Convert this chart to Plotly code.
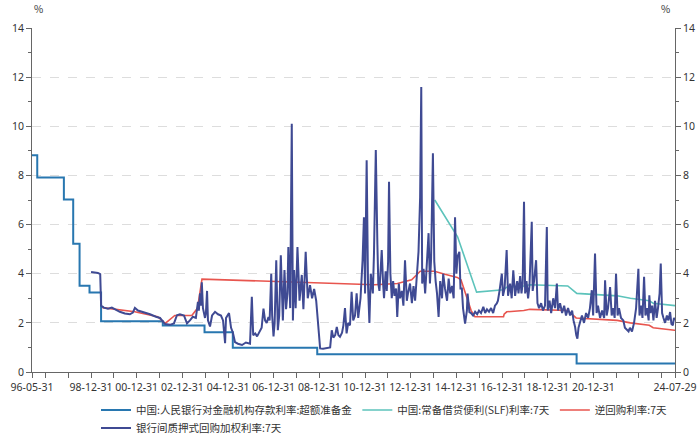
import pandas as pd
import plotly.graph_objects as go

# ---------------- data ----------------
dep_dates = ['1996-05-31', '1996-08-23', '1997-10-23', '1998-03-21', '1998-07-01', '1998-12-07',
             '1999-06-10', '2002-02-21', '2003-12-21', '2005-03-17', '2008-11-27', '2020-04-07',
             '2024-07-29']
dep_vals = [8.82, 7.92, 7.02, 5.22, 3.51, 3.24, 2.07, 1.89, 1.62, 0.99, 0.72, 0.35, 0.35]

slf_dates = ['2014-01-20', '2015-01-20', '2015-11-20', '2017-01-24', '2017-03-16', '2017-12-14',
             '2018-03-22', '2019-11-18', '2020-04-10', '2022-01-17', '2022-08-15', '2023-06-13',
             '2023-08-15', '2024-07-29']
slf_vals = [7.0, 5.5, 3.25, 3.35, 3.45, 3.5, 3.55, 3.5, 3.2, 3.1, 3.0, 2.9, 2.8, 2.7]

rr_dates = ['1999-07-01', '2000-03-01', '2000-07-01', '2000-12-01', '2001-06-01', '2001-12-01',
            '2002-04-01', '2002-09-01', '2003-06-01', '2003-09-01', '2003-11-10', '2011-06-01',
            '2012-06-01', '2013-01-15', '2013-06-01', '2014-01-15', '2014-06-01', '2015-01-15',
            '2015-03-15', '2015-05-10', '2015-06-30', '2015-08-25', '2015-10-24', '2017-01-24',
            '2017-02-03', '2017-03-16', '2017-12-14', '2018-03-22', '2019-11-18', '2020-03-30',
            '2022-01-17', '2022-08-15', '2023-06-13', '2023-08-15', '2024-07-22', '2024-07-29']
rr_vals = [2.62, 2.55, 2.52, 2.45, 2.35, 2.25, 1.98, 2.3, 2.3, 2.6, 3.78, 3.55,
           3.6, 3.75, 4.1, 4.1, 4.0, 3.85, 3.75, 3.35, 2.9, 2.5, 2.25, 2.25,
           2.35, 2.45, 2.5, 2.55, 2.5, 2.2, 2.1, 2.0, 1.9, 1.8, 1.7, 1.7]

# interbank pledged repo weighted rate, 7 day (time in decimal years)
repo_t = [1999.00, 1999.15, 1999.30, 1999.40, 1999.44, 1999.56, 1999.74, 1999.91, 2000.09, 2000.26,
          2000.48, 2000.70, 2000.83, 2000.92, 2001.05, 2001.27, 2001.58, 2001.84, 2002.02, 2002.15,
          2002.24, 2002.45, 2002.63, 2002.76, 2002.89, 2003.07, 2003.20, 2003.33, 2003.46, 2003.59,
          2003.68, 2003.72, 2003.77, 2003.81, 2003.85, 2003.90, 2003.99, 2004.03, 2004.08, 2004.12,
          2004.21, 2004.30, 2004.43, 2004.56, 2004.69, 2004.78, 2004.87, 2004.91, 2005.04, 2005.13,
          2005.21, 2005.30, 2005.43, 2005.61, 2005.78, 2005.96,
          2006.04, 2006.10, 2006.19, 2006.27, 2006.40, 2006.47, 2006.55, 2006.62, 2006.69, 2006.77,
          2006.82, 2006.89, 2006.93, 2006.99, 2007.04, 2007.11, 2007.18, 2007.24, 2007.31, 2007.40,
          2007.47, 2007.54, 2007.60, 2007.64, 2007.72, 2007.75, 2007.79, 2007.84, 2007.89, 2007.96,
          2008.04, 2008.13, 2008.18, 2008.23, 2008.30, 2008.40, 2008.49, 2008.59, 2008.68, 2008.77,
          2008.86, 2008.91, 2008.96, 2009.03, 2009.16, 2009.32, 2009.47, 2009.54, 2009.61, 2009.69,
          2009.76, 2009.83, 2009.90, 2009.99, 2010.05, 2010.12, 2010.19, 2010.26, 2010.34, 2010.41,
          2010.48, 2010.56, 2010.63, 2010.70, 2010.80, 2010.89, 2010.95, 2011.00,
          2011.07, 2011.13, 2011.19, 2011.25, 2011.34, 2011.39, 2011.47, 2011.54, 2011.58, 2011.63,
          2011.68, 2011.73, 2011.79, 2011.83, 2011.90, 2011.95, 2012.01, 2012.05, 2012.11, 2012.17,
          2012.23, 2012.29, 2012.36, 2012.41, 2012.48, 2012.53, 2012.61, 2012.68, 2012.75, 2012.83,
          2012.88, 2012.97, 2013.05, 2013.12, 2013.19, 2013.27, 2013.34, 2013.41, 2013.46, 2013.50,
          2013.56, 2013.63, 2013.71, 2013.78, 2013.84, 2013.89, 2013.97, 2014.03, 2014.09, 2014.15,
          2014.22, 2014.29, 2014.37, 2014.42, 2014.50, 2014.59, 2014.66, 2014.73, 2014.81, 2014.88,
          2014.94, 2015.00, 2015.05, 2015.13, 2015.18, 2015.24, 2015.29, 2015.38, 2015.46, 2015.49,
          2015.57, 2015.64, 2015.73, 2015.82, 2015.91, 2015.99, 2016.08, 2016.18, 2016.26, 2016.34,
          2016.43, 2016.52, 2016.61, 2016.69, 2016.77, 2016.82, 2016.89, 2016.99, 2017.04, 2017.11,
          2017.20, 2017.26, 2017.35, 2017.42, 2017.49, 2017.57, 2017.66, 2017.72, 2017.79, 2017.85,
          2017.90, 2017.96, 2018.01, 2018.07, 2018.14, 2018.20, 2018.30, 2018.34, 2018.40, 2018.49,
          2018.55, 2018.62, 2018.71, 2018.79, 2018.88, 2018.96, 2019.00, 2019.08, 2019.15, 2019.24,
          2019.32, 2019.40, 2019.45, 2019.54, 2019.63, 2019.72, 2019.80, 2019.89, 2019.98, 2020.07,
          2020.13, 2020.20, 2020.25, 2020.30, 2020.35, 2020.42, 2020.50, 2020.59, 2020.68, 2020.77,
          2020.85, 2020.93, 2020.99, 2021.07, 2021.14, 2021.20, 2021.29, 2021.38, 2021.47, 2021.51,
          2021.58, 2021.64, 2021.73, 2021.80, 2021.86, 2021.93, 2021.99, 2022.06, 2022.12, 2022.21,
          2022.31, 2022.38, 2022.46, 2022.54, 2022.60, 2022.69, 2022.78, 2022.87, 2022.97, 2023.02,
          2023.09, 2023.15, 2023.22, 2023.28, 2023.35, 2023.42, 2023.45, 2023.50, 2023.57, 2023.63,
          2023.70, 2023.77, 2023.83, 2023.90, 2023.95, 2024.01, 2024.07, 2024.14, 2024.22, 2024.29,
          2024.36, 2024.42, 2024.48, 2024.53, 2024.57]
repo_vals = [4.07, 4.06, 4.03, 3.98, 2.70, 2.62, 2.58, 2.62, 2.52, 2.45,
             2.38, 2.35, 2.42, 2.61, 2.50, 2.45, 2.35, 2.25, 2.20, 2.05,
             1.95, 1.92, 1.98, 2.31, 2.35, 2.30, 1.98, 2.10, 2.25, 2.20,
             2.85, 2.50, 3.20, 2.70, 3.65, 2.60, 2.20, 2.40, 3.30, 2.10,
             1.85, 2.30, 2.45, 2.35, 2.30, 2.10, 1.17, 2.20, 2.40, 1.80,
             1.60, 1.22, 1.15, 1.10, 1.20, 1.15,
             3.06, 1.50, 1.57, 1.45, 1.70, 1.80, 2.58, 2.10, 2.00, 2.24,
             2.10, 4.00, 2.30, 1.45, 2.00, 4.55, 1.70, 2.30, 4.75, 2.10,
             4.15, 2.56, 3.20, 5.09, 2.60, 7.13, 10.10, 2.10, 4.15, 2.60,
             5.09, 2.90, 3.40, 3.95, 2.56, 4.89, 3.00, 3.53, 3.00, 3.38,
             2.90, 2.30, 1.60, 0.96, 0.95, 0.97, 1.00, 1.70, 1.40, 1.50,
             1.83, 1.50, 1.43, 1.60, 1.90, 2.60, 1.57, 2.00, 1.90, 3.26,
             2.10, 2.30, 3.20, 2.20, 3.00, 4.55, 6.30, 3.20,
             8.62, 3.50, 2.00, 4.00, 3.20, 4.80, 9.03, 5.20, 3.60, 3.30,
             4.20, 4.96, 3.60, 3.00, 4.10, 3.30, 4.50, 7.74, 4.00, 3.00,
             3.70, 3.10, 3.40, 2.24, 3.60, 3.00, 3.30, 2.70, 4.55, 2.90,
             3.20, 3.60, 2.80, 3.50, 2.90, 4.00, 4.90, 7.10, 11.60, 3.60,
             4.20, 3.20, 4.50, 5.65, 3.60, 4.60, 8.90, 4.50, 3.70, 3.20,
             2.24, 3.70, 3.00, 4.00, 3.40, 2.90, 3.80, 3.20, 3.50, 3.00,
             6.30, 4.00, 4.70, 4.89, 3.40, 3.40, 2.60, 1.97, 2.50, 3.19,
             2.44, 2.40, 2.30, 2.45, 2.35, 2.50, 2.40, 2.65, 2.40, 2.55,
             2.45, 2.60, 2.40, 2.70, 2.79, 2.90, 3.30, 4.00, 3.10, 3.40,
             4.96, 3.10, 3.60, 3.00, 4.14, 3.10, 3.70, 3.20, 3.90, 3.20,
             3.60, 6.93, 3.20, 3.70, 3.00, 3.50, 6.11, 3.30, 3.70, 4.55,
             2.80, 2.60, 2.80, 2.50, 2.70, 5.90, 2.50, 2.90, 2.40, 3.00,
             2.60, 3.60, 2.50, 2.80, 2.40, 2.70, 2.30, 2.60, 2.30, 2.50,
             2.10, 1.83, 1.50, 1.36, 1.80, 2.10, 2.30, 2.00, 2.40, 2.20,
             2.60, 3.33, 2.30, 4.82, 2.40, 2.70, 2.20, 2.50, 2.20, 3.73,
             2.30, 2.60, 3.46, 2.30, 2.60, 2.20, 4.00, 2.30, 2.60, 2.20,
             2.10, 1.80, 1.70, 1.65, 1.80, 1.65, 2.00, 2.60, 4.20, 2.30,
             2.70, 2.20, 3.87, 2.30, 2.60, 2.10, 3.12, 2.40, 2.70, 2.10,
             2.90, 2.20, 2.60, 3.20, 4.41, 2.40, 2.20, 2.00, 2.30, 2.10,
             2.44, 1.95, 1.90, 2.20, 2.10]

tick_dates = ['1996-05-31'] + [f'{y}-12-31' for y in range(1996, 2024)] + ['2024-07-29']
tick_labels = {'1996-05-31': '96-05-31', '2024-07-29': '24-07-29'}
for y in range(1998, 2021, 2):
    tick_labels[f'{y}-12-31'] = f'{str(y)[2:]}-12-31'

names = ['中国:人民银行对金融机构存款利率:超额准备金', '中国:常备借贷便利(SLF)利率:7天',
         '逆回购利率:7天', '银行间质押式回购加权利率:7天']
colors = ['#2877b0', '#5cc3bb', '#e8554e', '#3f4a93']


def to_date(t):
    out = []
    for v in t:
        y = int(v)
        start = pd.Timestamp(year=y, month=1, day=1)
        out.append(start + pd.Timedelta(days=(v - y) * 365.25))
    return out


fig = go.Figure()
fig.add_trace(go.Scatter(x=pd.to_datetime(dep_dates), y=dep_vals, mode='lines', name=names[0],
                         line=dict(color=colors[0], width=2, shape='hv'), legend='legend'))
fig.add_trace(go.Scatter(x=pd.to_datetime(slf_dates), y=slf_vals, mode='lines', name=names[1],
                         line=dict(color=colors[1], width=1.6), legend='legend'))
fig.add_trace(go.Scatter(x=pd.to_datetime(rr_dates), y=rr_vals, mode='lines', name=names[2],
                         line=dict(color=colors[2], width=1.6), legend='legend'))
fig.add_trace(go.Scatter(x=to_date(repo_t), y=repo_vals, mode='lines', name=names[3],
                         line=dict(color=colors[3], width=2), legend='legend2'))
# invisible trace to anchor right axis
fig.add_trace(go.Scatter(x=[pd.Timestamp('2000-01-01')], y=[None], yaxis='y2', showlegend=False,
                         hoverinfo='skip', mode='lines'))

tick_font = dict(family='Noto Sans, sans-serif', size=10.5, color='#333333')
axis_col = '#666666'
leg_common = dict(orientation='h', xanchor='left', yanchor='middle',
                  xref='container', yref='container',
                  font=dict(size=10.5, color='#333333'), itemwidth=30, tracegroupgap=0,
                  bgcolor='rgba(0,0,0,0)')
fig.update_layout(
    width=700, height=437,
    margin=dict(l=32, r=25, t=28, b=65),
    paper_bgcolor='white', plot_bgcolor='white',
    font=dict(family='Noto Sans CJK SC, Noto Sans, sans-serif', size=10.5, color='#333333'),
    xaxis=dict(
        type='date', automargin=False,
        range=[pd.Timestamp('1996-05-31'), pd.Timestamp('2024-07-29')],
        tickmode='array', tickvals=pd.to_datetime(tick_dates),
        ticktext=[tick_labels.get(d, '') for d in tick_dates],
        tickangle=0,
        ticks='outside', ticklen=5, tickcolor=axis_col,
        showline=True, linecolor=axis_col, linewidth=1,
        showgrid=False, zeroline=False,
        tickfont=tick_font,
    ),
    yaxis=dict(
        range=[0, 14], tickmode='linear', tick0=0, dtick=2, automargin=False,
        ticks='outside', ticklen=5, tickcolor=axis_col,
        minor=dict(dtick=1, ticklen=3, tickcolor=axis_col, ticks='outside', showgrid=False),
        showline=True, linecolor=axis_col, linewidth=1,
        showgrid=True, gridcolor='#dddddd', griddash='dash', gridwidth=1,
        zeroline=False, tickfont=tick_font,
    ),
    yaxis2=dict(
        range=[0, 14], tickmode='linear', tick0=0, dtick=2, overlaying='y', side='right',
        automargin=False,
        ticks='outside', ticklen=5, tickcolor=axis_col,
        minor=dict(dtick=1, ticklen=3, tickcolor=axis_col, ticks='outside', showgrid=False),
        showline=True, linecolor=axis_col, linewidth=1,
        showgrid=False, zeroline=False, tickfont=tick_font,
    ),
    legend=dict(x=96 / 700, y=1 - 410 / 437, **leg_common),
    legend2=dict(x=96 / 700, y=1 - 428 / 437, **leg_common),
    showlegend=True,
)
fig.add_annotation(text='%', xref='paper', yref='paper', x=0, y=1, yshift=10, xshift=0,
                   showarrow=False, font=dict(size=10, color='#333333'), yanchor='bottom')
fig.add_annotation(text='%', xref='paper', yref='paper', x=1, y=1, yshift=10, xshift=-3,
                   showarrow=False, font=dict(size=10, color='#333333'), yanchor='bottom')

fig.write_html('out.html', config={'displayModeBar': False},
               post_script="document.body.style.margin='0px';document.body.style.overflow='hidden';")
